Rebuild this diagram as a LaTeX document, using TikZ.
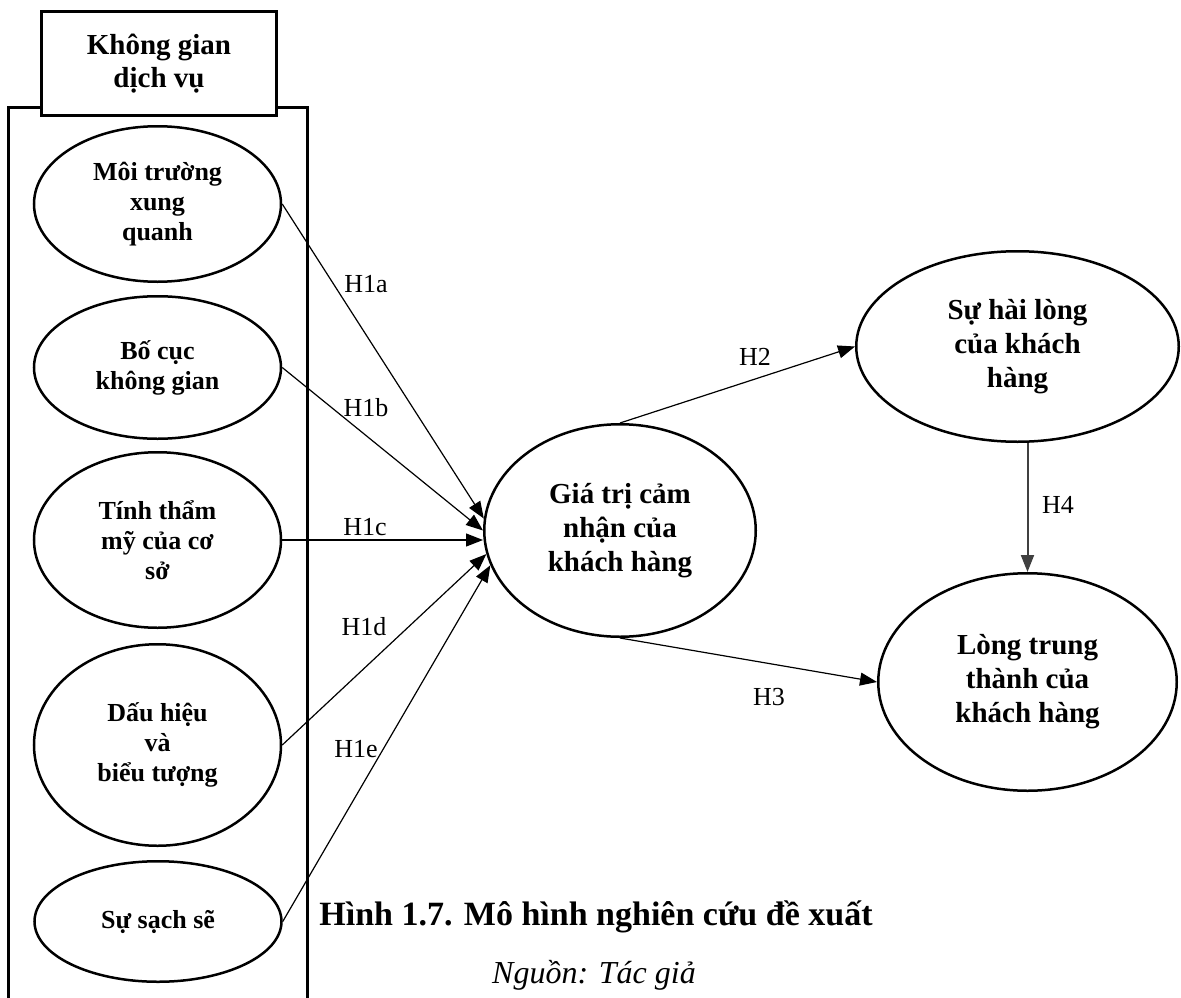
\documentclass[tikz,border=0pt]{standalone}
\usepackage{fontspec}
\setmainfont{Liberation Serif}
\usepackage{tikz}
\usetikzlibrary{shapes,arrows.meta,backgrounds,positioning}
\tikzstyle{factor}=[ellipse, draw, line width=2.5pt, inner sep=0pt, minimum width=247pt, align=center, font=\fontsize{26}{30}\selectfont\bfseries]
\tikzstyle{construct}=[ellipse, draw, line width=2.5pt, inner sep=0pt, align=center, font=\fontsize{29}{34}\selectfont\bfseries]
\tikzstyle{titlebox}=[rectangle, draw, line width=3pt, fill=white, minimum width=235pt, minimum height=104pt, align=center, font=\fontsize{29}{33}\selectfont\bfseries]
\tikzstyle{hyp}=[inner sep=0pt, font=\fontsize{26}{30}\selectfont]
\tikzstyle{link}=[line width=1.2pt, -{Triangle[length=17pt,width=13pt]}]
\tikzstyle{link2}=[line width=2pt, draw=black!75, -{Triangle[length=17pt,width=13pt]}]

\begin{document}
\begin{tikzpicture}[x=1pt,y=-1pt]
\useasboundingbox (0,0) rectangle (1181,998);
%Frame
\draw[line width=3pt] (8,998) -- (8,107) -- (307,107) -- (307,998);
\node[titlebox] (kg) at (159,63.5){Không gian\\dịch vụ};

%Column One
\node[factor, minimum height=155.5pt] (mt) at (157.5,204){Môi trường\\xung\\quanh};
\node[factor, minimum height=142.5pt] (bc) at (157.5,367.5){Bố cục\\không gian};
\node[factor, minimum height=175.5pt] (tm) at (157.5,540){Tính thẩm\\mỹ của cơ\\sở};
\node[factor, minimum height=201.5pt] (dh) at (157.5,745){Dấu hiệu\\và\\biểu tượng};
\node[factor, minimum height=120.5pt] (ss) at (158,921.5){Sự sạch sẽ};

%Column Two
\node[construct, minimum width=271.5pt, minimum height=212.5pt] (gt) at (620,530.5){Giá trị cảm\\nhận của\\khách hàng};
\node[construct, minimum width=322.5pt, minimum height=190.5pt] (hl) at (1017.5,346.5){Sự hài lòng\\của khách\\hàng};
\node[construct, minimum width=298.5pt, minimum height=217.5pt] (tt) at (1027.5,682){Lòng trung\\thành của\\khách hàng};

%Arrows
\draw[link] (mt.east) -- (gt.175);
\draw[link] (bc.east) -- (gt.180);
\draw[link] (tm.east) -- (tm.east -| gt.west);
\draw[link] (dh.east) -- (gt.190);
\draw[link] (ss.east) -- (gt.195);
\draw[link] (gt.north) -- (hl.west);
\draw[link] (gt.south) -- (tt.west);
\draw[link2] (tt.north |- hl.south) -- (tt.north);

%Labels
\node[hyp] (h1a) at (366,284){H1a};
\node[hyp] (h1b) at (366,408){H1b};
\node[hyp] (h1c) at (365,527){H1c};
\node[hyp] (h1d) at (364,627){H1d};
\node[hyp] (h1e) at (356,749){H1e};
\node[hyp] (h2) at (755,357){H2};
\node[hyp] (h3) at (769,697){H3};
\node[hyp] (h4) at (1058,505){H4};

%Caption
\node[anchor=base, font=\fontsize{34}{40}\selectfont\bfseries] (cap) at (596,925){Hình 1.7. Mô hình nghiên cứu đề xuất};
\node[anchor=base, font=\fontsize{32}{38}\selectfont\itshape] (src) at (594,983){Nguồn: Tác giả};
\end{tikzpicture}
\end{document}
